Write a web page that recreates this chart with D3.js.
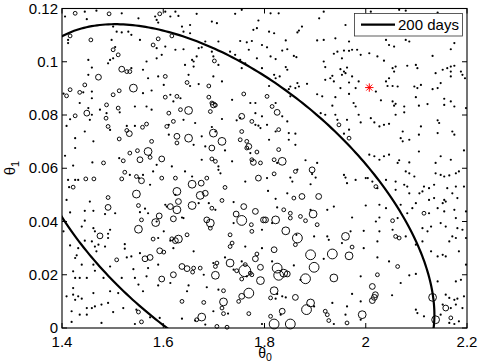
<!DOCTYPE html>
<html><head><meta charset="utf-8">
<script src="https://cdn.jsdelivr.net/npm/d3@7"></script>
<style>body{margin:0;background:#fff}svg{display:block}text{font-family:"Liberation Sans",Arial,sans-serif;fill:#000}</style>
</head><body><svg id="c" width="479" height="362"></svg>
<script>
// ---- axis / tick data ----
const xDomain=[1.4,2.2];
const yDomain=[0,0.12];
const xTicks=[1.4,1.6,1.8,2.0,2.2];
const yTicks=[0,0.02,0.04,0.06,0.08,0.1,0.12];
const xLabel="θ", xSub="0", yLabel="θ", ySub="1";
const legendLabel="200 days";
// ---- confidence ellipse (200 days) ----
const ellipseCenter=[1.730,0.0439];
const ellipseSd=[0.4056,0.0702];
const ellipseRho=-0.555;
// ---- true parameter (red star) ----
const truePoint=[2.007,0.0903];
// ---- weighted samples [theta0, theta1, weight] ----
const samplesUL=[[1.426,.1182,2],[1.406,.1170,1],[1.445,.1188,1],[1.449,.1160,1],[1.468,.1192,1],[1.493,.1180,2],[1.518,.1182,1],[1.551,.1163,1],[1.584,.1170,1],[1.587,.1157,1],[1.593,.1180,2],[1.590,.1147,1],[1.416,.1097,2],[1.412,.1082,1],[1.412,.1070,1],[1.457,.1082,2],[1.501,.1132,1],[1.508,.1113,1],[1.518,.1110,1],[1.531,.1113,1],[1.537,.1101,1],[1.498,.1082,1],[1.554,.1082,1],[1.590,.1086,2],[1.580,.1063,2],[1.587,.1051,1],[1.501,.1045,2],[1.505,.1055,1],[1.511,.1026,2],[1.495,.1007,1],[1.491,.0994,1],[1.501,.1013,1],[1.452,.1007,1],[1.459,.0978,1],[1.518,.0972,3],[1.528,.0963,2],[1.534,.0963,2],[1.537,.0976,1],[1.560,.0970,1],[1.567,.1001,1],[1.587,.1013,1],[1.452,.0951,1],[1.472,.0942,3],[1.570,.0938,1],[1.590,.0945,1],[1.445,.0913,2],[1.541,.0901,4],[1.416,.0895,2],[1.409,.0872,2],[1.403,.0880,1],[1.435,.0885,2],[1.442,.0885,1],[1.459,.0888,1],[1.459,.0863,1],[1.501,.0876,2],[1.513,.0891,2],[1.560,.0882,1],[1.577,.0892,1],[1.435,.0845,1],[1.488,.0838,2],[1.452,.0826,1],[1.449,.0807,3],[1.475,.0820,1],[1.459,.0801,1],[1.455,.0782,1],[1.488,.0807,1],[1.487,.0788,2],[1.511,.0826,2],[1.514,.0810,1],[1.544,.0832,1],[1.567,.0832,1],[1.577,.0820,1],[1.426,.0797,2],[1.416,.0784,1],[1.409,.0759,1],[1.445,.0738,1],[1.491,.0757,2],[1.495,.0744,1],[1.528,.0759,1],[1.528,.0742,2],[1.533,.0730,3],[1.544,.0759,1],[1.559,.0754,2],[1.567,.0766,2],[1.426,.0713,1],[1.462,.0701,1],[1.513,.0710,2],[1.577,.0701,2],[1.426,.0676,1],[1.406,.0647,1],[1.534,.0657,2],[1.549,.0666,2],[1.570,.0663,4],[1.554,.0632,3],[1.521,.0628,2],[1.574,.0641,2],[1.597,.0635,3],[1.460,.0622,1],[1.482,.0620,2],[1.513,.0638,1],[1.422,.0610,1],[1.587,.0613,1]];
const samplesUM=[[1.604,.1188,1],[1.624,.1188,1],[1.614,.1170,1],[1.630,.1172,1],[1.666,.1180,1],[1.696,.1151,1],[1.706,.1145,1],[1.742,.1180,1],[1.755,.1195,1],[1.788,.1155,1],[1.778,.1120,1],[1.785,.1126,1],[1.637,.1132,1],[1.653,.1138,1],[1.640,.1113,1],[1.653,.1107,1],[1.617,.1097,2],[1.709,.1076,1],[1.683,.1076,1],[1.752,.1078,1],[1.765,.1073,1],[1.775,.1078,1],[1.795,.1063,1],[1.604,.1057,1],[1.624,.1045,1],[1.640,.1047,1],[1.670,.1051,1],[1.676,.1054,1],[1.696,.1038,1],[1.732,.1038,1],[1.742,.1026,1],[1.769,.1045,1],[1.699,.1020,1],[1.701,.1003,2],[1.709,.0988,1],[1.666,.1020,1],[1.597,.1026,1],[1.657,.1007,1],[1.660,.1001,1],[1.643,.0988,1],[1.660,.0982,1],[1.752,.1007,1],[1.762,.0994,1],[1.785,.1013,1],[1.755,.0976,1],[1.795,.0976,1],[1.604,.0945,2],[1.650,.0951,1],[1.699,.0945,1],[1.716,.0926,1],[1.647,.0922,2],[1.653,.0909,1],[1.670,.0916,1],[1.690,.0909,2],[1.601,.0913,1],[1.759,.0879,2],[1.604,.0867,2],[1.614,.0876,1],[1.627,.0870,2],[1.634,.0863,1],[1.620,.0851,1],[1.736,.0857,1],[1.690,.0867,2],[1.696,.0845,2],[1.699,.0838,3],[1.703,.0837,2],[1.772,.0845,1],[1.782,.0845,1],[1.611,.0807,2],[1.634,.0820,2],[1.650,.0817,4],[1.693,.0813,2],[1.755,.0795,3],[1.752,.0788,1],[1.782,.0807,1],[1.795,.0795,1],[1.620,.0776,2],[1.640,.0782,1],[1.663,.0770,1],[1.716,.0785,1],[1.745,.0780,1],[1.775,.0776,2],[1.782,.0763,1],[1.607,.0757,2],[1.611,.0763,1],[1.696,.0755,1],[1.788,.0760,1],[1.792,.0751,1],[1.627,.0720,3],[1.650,.0713,4],[1.676,.0720,1],[1.699,.0732,4],[1.703,.0738,1],[1.755,.0738,2],[1.611,.0726,1],[1.627,.0695,2],[1.716,.0701,4],[1.696,.0676,3],[1.752,.0707,2],[1.765,.0701,2],[1.769,.0682,3],[1.765,.0676,2],[1.785,.0661,2],[1.772,.0657,1],[1.660,.0688,1],[1.683,.0682,1],[1.722,.0667,1],[1.676,.0632,1],[1.696,.0635,2],[1.703,.0626,2],[1.736,.0626,1],[1.775,.0632,2],[1.778,.0622,3],[1.792,.0620,2],[1.617,.0607,1],[1.709,.0607,1]];
const samplesUR=[[1.812,.1182,1],[1.828,.1182,1],[1.917,.1188,1],[1.908,.1163,1],[1.809,.1113,1],[1.819,.1107,1],[1.865,.1110,1],[1.868,.1117,1],[1.874,.1132,1],[1.960,.1138,1],[1.904,.1080,1],[1.917,.1082,1],[1.940,.1088,1],[1.967,.1076,1],[1.842,.1080,1],[1.805,.1054,1],[1.835,.1042,1],[1.845,.1047,1],[1.812,.1020,1],[1.822,.1010,1],[1.858,.1022,1],[1.863,.1017,1],[1.917,.1001,1],[1.944,.1038,1],[1.937,.1030,1],[1.957,.1042,1],[1.967,.1041,1],[1.973,.1045,1],[1.983,.1045,1],[1.990,.1026,1],[1.953,.1013,1],[1.842,.0980,1],[1.845,.0970,1],[1.920,.0980,1],[1.950,.0972,1],[1.957,.0963,1],[1.960,.0957,1],[1.963,.0978,1],[1.953,.0951,1],[1.819,.0951,1],[1.822,.0938,1],[1.830,.0945,1],[1.934,.0947,1],[1.930,.0938,1],[1.937,.0926,1],[1.920,.0932,1],[1.973,.0945,1],[1.809,.0909,1],[1.851,.0907,1],[1.848,.0897,1],[1.865,.0920,1],[1.861,.0901,1],[1.868,.0907,1],[1.884,.0917,1],[1.950,.0901,1],[1.967,.0922,1],[1.986,.0926,1],[1.980,.0901,1],[1.904,.0878,1],[1.914,.0870,1],[1.940,.0867,1],[1.967,.0879,1],[1.805,.0870,2],[1.851,.0870,1],[1.976,.0845,1],[1.980,.0832,1],[1.934,.0835,1],[1.815,.0832,2],[1.822,.0845,1],[1.825,.0810,3],[1.835,.0795,1],[1.911,.0807,1],[1.920,.0801,1],[1.940,.0801,1],[1.944,.0782,1],[1.963,.0782,1],[1.986,.0801,1],[1.947,.0763,2],[1.805,.0763,1],[1.845,.0776,1],[1.990,.0772,1],[1.828,.0745,2],[1.822,.0738,1],[1.967,.0745,1],[1.848,.0732,1],[1.861,.0730,1],[1.957,.0730,1],[1.809,.0707,1],[1.848,.0707,1],[1.967,.0713,2],[1.861,.0688,1],[1.828,.0670,2],[1.819,.0632,2],[1.835,.0626,4],[1.825,.0620,1],[1.881,.0630,1],[1.904,.0620,1],[1.865,.0595,1]];
const samplesURR=[[2.010,.1188,1],[2.066,.1195,1],[2.079,.1192,1],[2.142,.1185,1],[2.040,.1082,1],[2.046,.1063,1],[2.056,.1057,1],[2.079,.1082,1],[2.086,.1076,1],[2.175,.1070,1],[2.168,.1047,1],[2.132,.1022,1],[2.007,.1032,1],[2.023,.1020,1],[2.036,.1004,1],[2.053,.0976,1],[2.059,.0982,1],[2.056,.0963,1],[2.082,.0985,1],[2.099,.0988,1],[2.102,.0976,1],[2.138,.0957,1],[2.152,.0970,1],[2.161,.0976,1],[2.168,.0982,1],[2.175,.0985,1],[2.168,.0963,1],[2.168,.0945,1],[2.188,.0963,1],[2.191,.0951,1],[2.196,.0938,1],[2.046,.0938,1],[2.040,.0926,1],[2.043,.0909,1],[2.053,.0909,1],[2.063,.0907,1],[2.096,.0907,1],[2.102,.0901,1],[2.109,.0913,1],[2.132,.0897,1],[2.142,.0901,1],[2.148,.0920,1],[2.020,.0888,1],[2.030,.0855,1],[2.053,.0851,1],[2.059,.0842,1],[2.056,.0835,1],[2.076,.0832,1],[2.099,.0867,1],[2.105,.0835,1],[2.122,.0841,1],[2.155,.0861,1],[2.155,.0838,1],[2.175,.0832,1],[2.168,.0851,1],[2.076,.0810,1],[2.059,.0801,1],[2.010,.0788,1],[2.017,.0772,1],[2.027,.0757,1],[2.036,.0763,1],[2.046,.0767,1],[2.109,.0757,1],[2.142,.0780,1],[2.145,.0770,1],[2.073,.0738,1],[2.171,.0738,1],[2.069,.0713,1],[2.073,.0701,1],[2.086,.0707,1],[2.105,.0726,1],[2.142,.0732,1],[2.175,.0726,1],[2.105,.0663,1],[2.007,.0651,1],[2.017,.0645,1],[2.027,.0632,1],[2.036,.0645,1],[2.046,.0651,1],[2.066,.0630,1],[2.063,.0620,1],[2.086,.0622,1],[2.138,.0620,1],[2.168,.0632,1],[2.194,.0667,1],[2.148,.0645,1],[2.198,.0826,1]];
const samplesLL=[[1.412,.0556,1],[1.426,.0556,1],[1.432,.0556,1],[1.447,.0560,2],[1.463,.0560,2],[1.422,.0529,2],[1.414,.0529,1],[1.518,.0560,2],[1.524,.0585,2],[1.534,.0575,1],[1.547,.0569,2],[1.552,.0563,1],[1.557,.0553,3],[1.560,.0575,1],[1.580,.0588,1],[1.597,.0563,2],[1.409,.0481,1],[1.547,.0503,4],[1.574,.0538,1],[1.491,.0490,2],[1.455,.0475,1],[1.445,.0440,1],[1.462,.0440,1],[1.491,.0453,3],[1.485,.0428,1],[1.505,.0431,1],[1.551,.0460,2],[1.554,.0435,1],[1.564,.0448,1],[1.570,.0431,1],[1.557,.0406,2],[1.587,.0400,1],[1.592,.0421,3],[1.585,.0396,4],[1.416,.0434,1],[1.403,.0363,1],[1.445,.0403,1],[1.439,.0381,1],[1.462,.0375,1],[1.465,.0363,1],[1.495,.0369,1],[1.475,.0346,3],[1.491,.0354,1],[1.491,.0338,1],[1.551,.0371,4],[1.580,.0334,2],[1.590,.0338,1],[1.445,.0328,1],[1.459,.0325,1],[1.472,.0313,1],[1.465,.0306,1],[1.485,.0306,1],[1.524,.0315,1],[1.524,.0298,1],[1.416,.0310,1],[1.432,.0300,1],[1.429,.0273,1],[1.426,.0263,1],[1.593,.0290,3],[1.508,.0256,2],[1.528,.0265,1],[1.537,.0269,1],[1.564,.0260,3],[1.574,.0265,3],[1.554,.0281,1],[1.468,.0288,1],[1.439,.0238,1],[1.462,.0238,1],[1.495,.0231,1],[1.541,.0221,1],[1.570,.0225,1],[1.590,.0238,1],[1.422,.0213,1],[1.465,.0215,1],[1.426,.0188,1],[1.435,.0188,1],[1.449,.0188,1],[1.482,.0188,1],[1.518,.0188,1],[1.544,.0188,1],[1.567,.0194,1],[1.590,.0160,1],[1.597,.0184,3],[1.409,.0119,1],[1.422,.0125,1],[1.432,.0119,1],[1.439,.0110,1],[1.426,.0106,1],[1.462,.0131,1],[1.495,.0138,1],[1.511,.0131,1],[1.551,.0163,1],[1.560,.0138,1],[1.422,.0150,1],[1.465,.0081,1],[1.459,.0075,1],[1.449,.0075,1],[1.478,.0088,1],[1.491,.0094,1],[1.521,.0075,1],[1.547,.0069,1],[1.551,.0060,2],[1.419,.0063,1],[1.435,.0050,1],[1.449,.0050,1],[1.501,.0060,1],[1.419,.0023,1],[1.478,.0019,1],[1.544,.0015,1],[1.557,.0023,2],[1.574,.0040,1],[1.593,.0038,1]];
const samplesLM=[[1.643,.0588,1],[1.709,.0594,1],[1.713,.0581,1],[1.657,.0569,1],[1.624,.0563,2],[1.788,.0563,3],[1.657,.0540,4],[1.675,.0544,3],[1.686,.0563,2],[1.762,.0550,1],[1.722,.0528,2],[1.627,.0513,4],[1.624,.0500,1],[1.673,.0498,4],[1.683,.0506,3],[1.630,.0475,3],[1.614,.0456,3],[1.627,.0444,4],[1.657,.0460,4],[1.670,.0469,1],[1.690,.0469,1],[1.716,.0479,2],[1.739,.0473,1],[1.759,.0456,3],[1.696,.0450,2],[1.703,.0444,1],[1.782,.0438,3],[1.620,.0410,3],[1.637,.0415,1],[1.640,.0413,1],[1.607,.0456,1],[1.604,.0463,1],[1.744,.0428,3],[1.755,.0404,5],[1.686,.0406,3],[1.693,.0394,4],[1.693,.0375,2],[1.774,.0388,2],[1.775,.0363,2],[1.739,.0394,1],[1.798,.0406,3],[1.795,.0369,1],[1.601,.0363,1],[1.647,.0350,2],[1.617,.0335,2],[1.624,.0328,3],[1.630,.0334,4],[1.614,.0328,1],[1.620,.0300,1],[1.732,.0350,2],[1.736,.0319,2],[1.732,.0306,2],[1.762,.0306,1],[1.795,.0300,1],[1.601,.0285,2],[1.660,.0288,1],[1.722,.0265,1],[1.782,.0260,3],[1.785,.0278,2],[1.755,.0250,1],[1.732,.0244,4],[1.762,.0238,2],[1.761,.0215,6],[1.706,.0244,2],[1.703,.0231,2],[1.699,.0244,1],[1.637,.0231,3],[1.647,.0223,3],[1.660,.0225,2],[1.658,.0210,2],[1.673,.0225,2],[1.745,.0215,2],[1.739,.0219,1],[1.772,.0206,2],[1.775,.0200,2],[1.792,.0228,3],[1.620,.0200,3],[1.703,.0198,4],[1.680,.0200,1],[1.755,.0184,2],[1.765,.0194,1],[1.792,.0178,4],[1.614,.0169,1],[1.650,.0160,1],[1.686,.0153,1],[1.719,.0140,2],[1.709,.0144,1],[1.769,.0131,5],[1.755,.0119,3],[1.749,.0100,2],[1.647,.0138,1],[1.637,.0100,2],[1.680,.0096,2],[1.719,.0098,4],[1.716,.0075,2],[1.719,.0054,2],[1.728,.0054,1],[1.769,.0054,2],[1.699,.0063,1],[1.676,.0041,4],[1.666,.0031,2],[1.663,.0028,1],[1.637,.0035,1],[1.706,.0006,2],[1.726,.0003,2],[1.683,.0013,1],[1.795,.0015,1]];
const samplesLR=[[1.819,.0579,2],[1.861,.0588,2],[1.894,.0594,3],[1.894,.0578,1],[1.901,.0565,1],[1.851,.0565,1],[1.855,.0550,1],[1.891,.0540,1],[1.957,.0575,1],[1.960,.0565,1],[1.963,.0544,1],[1.980,.0556,1],[2.000,.0563,1],[1.805,.0563,1],[1.807,.0515,1],[1.845,.0506,1],[1.858,.0488,2],[1.874,.0494,3],[1.907,.0494,3],[1.822,.0485,1],[1.825,.0453,1],[1.838,.0444,2],[1.802,.0406,3],[1.822,.0406,4],[1.815,.0394,1],[1.851,.0431,2],[1.851,.0413,2],[1.871,.0419,2],[1.881,.0403,2],[1.891,.0444,1],[1.896,.0428,4],[1.904,.0388,2],[1.924,.0444,1],[1.937,.0456,1],[1.973,.0415,1],[2.000,.0460,1],[1.842,.0365,4],[1.865,.0338,5],[1.863,.0350,1],[1.861,.0313,2],[1.898,.0344,1],[1.924,.0344,1],[1.927,.0331,1],[1.960,.0344,4],[1.970,.0363,1],[1.953,.0319,1],[1.973,.0304,2],[1.996,.0365,1],[1.996,.0300,1],[1.819,.0294,3],[1.891,.0275,5],[1.934,.0278,5],[1.967,.0271,4],[1.917,.0260,1],[1.815,.0250,1],[1.825,.0225,5],[1.828,.0198,5],[1.838,.0206,4],[1.845,.0203,3],[1.858,.0235,1],[1.898,.0228,5],[1.881,.0185,5],[1.871,.0181,1],[1.937,.0188,4],[1.990,.0194,1],[1.819,.0140,4],[1.825,.0128,1],[1.812,.0113,2],[1.822,.0110,1],[1.835,.0119,1],[1.842,.0115,1],[1.861,.0115,3],[1.973,.0128,1],[1.891,.0094,4],[1.883,.0069,5],[1.898,.0081,1],[1.934,.0094,1],[1.963,.0081,1],[1.990,.0100,1],[1.835,.0063,3],[1.832,.0050,1],[1.920,.0063,2],[1.924,.0050,2],[1.927,.0028,2],[1.937,.0015,1],[1.963,.0019,2],[1.960,.0050,1],[1.993,.0050,4],[1.990,.0031,1],[1.819,.0015,5],[1.851,.0015,5],[1.812,.0044,2]];
const samplesLRR=[[2.004,.0563,1],[2.013,.0550,1],[2.020,.0531,2],[2.023,.0525,1],[2.040,.0556,1],[2.059,.0550,1],[2.079,.0588,1],[2.086,.0581,1],[2.076,.0538,1],[2.082,.0531,1],[2.086,.0506,1],[2.059,.0519,1],[2.096,.0569,1],[2.106,.0506,1],[2.112,.0513,1],[2.115,.0531,1],[2.125,.0525,1],[2.135,.0538,1],[2.138,.0581,1],[2.148,.0575,1],[2.155,.0569,1],[2.165,.0573,1],[2.178,.0581,1],[2.184,.0588,1],[2.161,.0525,1],[2.171,.0506,1],[2.178,.0531,1],[2.194,.0531,1],[2.125,.0481,1],[2.135,.0488,1],[2.155,.0481,1],[2.158,.0475,1],[2.152,.0469,1],[2.181,.0488,1],[2.099,.0469,1],[2.069,.0463,1],[2.092,.0450,1],[2.082,.0431,1],[2.027,.0463,1],[2.040,.0450,1],[2.115,.0431,2],[2.125,.0431,1],[2.142,.0450,1],[2.155,.0438,1],[2.175,.0444,1],[2.198,.0438,1],[2.027,.0415,1],[2.020,.0400,1],[2.053,.0403,2],[2.063,.0413,1],[2.053,.0369,1],[2.027,.0363,1],[2.023,.0325,1],[2.059,.0344,2],[2.066,.0338,2],[2.079,.0344,1],[2.112,.0375,1],[2.122,.0363,1],[2.129,.0381,1],[2.148,.0394,1],[2.158,.0381,1],[2.178,.0413,1],[2.181,.0375,1],[2.191,.0369,1],[2.171,.0344,1],[2.178,.0338,1],[2.165,.0325,1],[2.198,.0338,1],[2.099,.0313,1],[2.112,.0325,1],[2.129,.0288,1],[2.142,.0269,1],[2.152,.0275,1],[2.158,.0269,1],[2.184,.0288,1],[2.198,.0238,1],[2.023,.0265,1],[2.046,.0250,1],[2.063,.0231,2],[2.086,.0198,1],[2.099,.0203,1],[2.069,.0169,1],[2.023,.0200,2],[2.013,.0156,3],[2.019,.0125,3],[2.017,.0115,3],[2.013,.0103,3],[2.052,.0123,1],[2.132,.0115,4],[2.142,.0175,1],[2.158,.0125,1],[2.178,.0175,1],[2.188,.0181,1],[2.165,.0113,1],[2.175,.0106,1],[2.181,.0110,1],[2.194,.0119,1],[2.152,.0088,1],[2.158,.0075,3],[2.168,.0075,1],[2.178,.0088,1],[2.191,.0075,1],[2.099,.0069,1],[2.102,.0056,1],[2.138,.0031,4],[2.168,.0038,2],[2.165,.0019,1],[2.148,.0050,1],[2.175,.0015,1],[2.184,.0025,1],[2.115,.0044,1]];

const samples=[].concat(samplesUL,samplesUM,samplesUR,samplesURR,samplesLL,samplesLM,samplesLR,samplesLRR);

// ---- layout ----
const W=479,H=362;
const m={left:62,right:467,top:8.5,bottom:328};
const svg=d3.select("#c");
const x=d3.scaleLinear().domain(xDomain).range([m.left,m.right]);
const y=d3.scaleLinear().domain(yDomain).range([m.bottom,m.top]);
const r=d3.scaleLinear().domain([2,6]).range([1.9,5.9]);

svg.append("rect").attr("x",0).attr("y",0).attr("width",W).attr("height",H).attr("fill","#fff");
svg.append("defs").append("clipPath").attr("id","plotclip").append("rect")
  .attr("x",m.left).attr("y",m.top).attr("width",m.right-m.left).attr("height",m.bottom-m.top);

// samples
const g=svg.append("g");
g.selectAll("circle.s").data(samples).join("circle")
  .attr("cx",d=>x(d[0])).attr("cy",d=>y(d[1]))
  .attr("r",d=>d[2]<=1?1.1:r(d[2]))
  .attr("fill",d=>d[2]<=1?"#000":"none")
  .attr("stroke",d=>d[2]<=1?"none":"#000")
  .attr("stroke-width",0.95);

// ellipse
const ts=d3.range(0,361).map(i=>i*Math.PI/180);
const sq=Math.sqrt(1-ellipseRho*ellipseRho);
const ePts=ts.map(t=>[ellipseCenter[0]+ellipseSd[0]*Math.cos(t),
  ellipseCenter[1]+ellipseSd[1]*(ellipseRho*Math.cos(t)+sq*Math.sin(t))]);
svg.append("path").attr("clip-path","url(#plotclip)")
  .attr("d",d3.line().x(d=>x(d[0])).y(d=>y(d[1]))(ePts))
  .attr("fill","none").attr("stroke","#000").attr("stroke-width",2.2);

// red star
const sx=x(truePoint[0]), sy=y(truePoint[1]), s=4.2, s2=3;
const star=svg.append("g").attr("stroke","#ff0000").attr("stroke-width",1);
[[ -s,0,s,0],[0,-s,0,s],[-s2,-s2,s2,s2],[-s2,s2,s2,-s2]].forEach(l=>{
  star.append("line").attr("x1",sx+l[0]).attr("y1",sy+l[1]).attr("x2",sx+l[2]).attr("y2",sy+l[3]);
});

// axes box
svg.append("rect").attr("x",m.left).attr("y",m.top).attr("width",m.right-m.left).attr("height",m.bottom-m.top)
  .attr("fill","none").attr("stroke","#000").attr("stroke-width",1.1);
const tl=5;
const ax=svg.append("g").attr("stroke","#000").attr("stroke-width",1);
xTicks.forEach(v=>{
  ax.append("line").attr("x1",x(v)).attr("x2",x(v)).attr("y1",m.bottom).attr("y2",m.bottom-tl);
  ax.append("line").attr("x1",x(v)).attr("x2",x(v)).attr("y1",m.top).attr("y2",m.top+tl);
});
yTicks.forEach(v=>{
  ax.append("line").attr("x1",m.left).attr("x2",m.left+tl).attr("y1",y(v)).attr("y2",y(v));
  ax.append("line").attr("x1",m.right).attr("x2",m.right-tl).attr("y1",y(v)).attr("y2",y(v));
});
const fmt=v=>String(+v.toFixed(3));
svg.append("g").selectAll("text").data(xTicks).join("text")
  .attr("x",d=>x(d)).attr("y",346.5).attr("text-anchor","middle").attr("font-size",15).text(fmt);
svg.append("g").selectAll("text").data(yTicks).join("text")
  .attr("x",m.left-4).attr("y",d=>y(d)+5).attr("text-anchor","end").attr("font-size",15).text(fmt);

// axis labels
const xl=svg.append("text").attr("x",265).attr("y",357.5).attr("text-anchor","middle").attr("font-size",14);
xl.append("tspan").text(xLabel);
xl.append("tspan").attr("font-size",10.5).attr("dy",3.5).text(xSub);
const yl=svg.append("text").attr("transform","translate(15,168) rotate(-90)").attr("text-anchor","middle").attr("font-size",15);
yl.append("tspan").text(yLabel);
yl.append("tspan").attr("font-size",11).attr("dy",4).text(ySub);

// legend
const lg=svg.append("g");
lg.append("rect").attr("x",354.5).attr("y",13.5).attr("width",108).attr("height",22.5)
  .attr("fill","#fff").attr("stroke","#333").attr("stroke-width",0.8);
lg.append("line").attr("x1",361).attr("x2",395).attr("y1",24.7).attr("y2",24.7).attr("stroke","#000").attr("stroke-width",2.2);
lg.append("text").attr("x",398).attr("y",30).attr("font-size",15).text(legendLabel);
</script></body></html>
